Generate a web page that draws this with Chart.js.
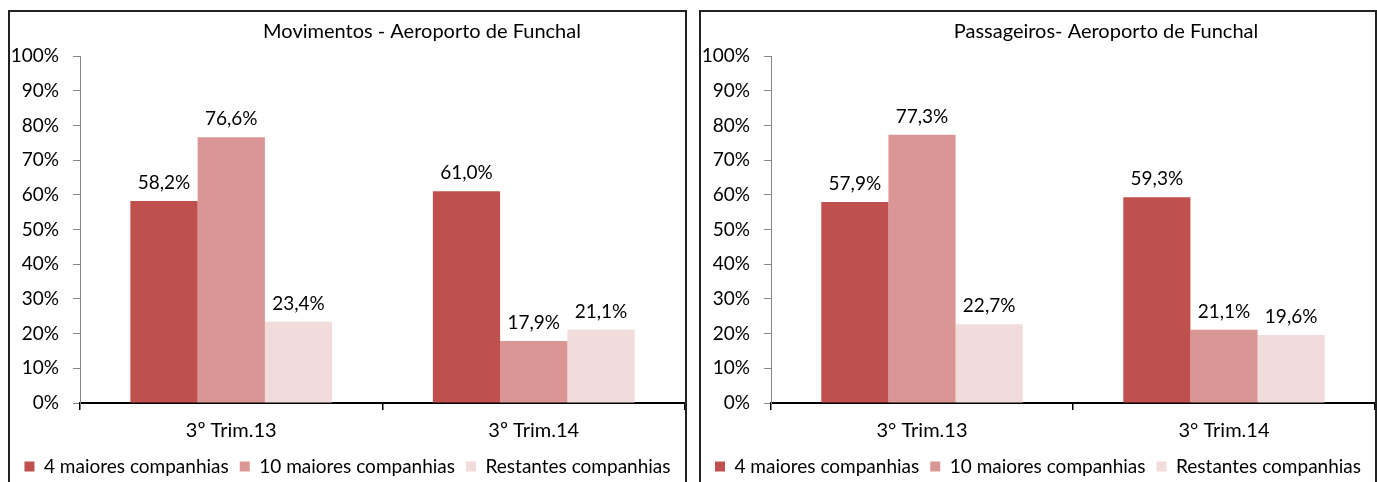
<!DOCTYPE html>
<html>
<head>
<meta charset="utf-8">
<script src="https://cdn.jsdelivr.net/npm/chart.js@4.4.0/dist/chart.umd.min.js"></script>
<style>
    html, body { margin: 0; padding: 0; background: #fff; width: 1377px; height: 482px; overflow: hidden; }
    .box { position: absolute; top: 10px; height: 480px; border: 2px solid #222; box-sizing: border-box; overflow: hidden; }
    #boxA { left: 8px; width: 679px; }
    #boxB { left: 699px; width: 678px; }
    canvas { display: block; }
</style>
</head>
<body>
<div class="box" id="boxA"><canvas id="chartA" width="675" height="474"></canvas></div>
<div class="box" id="boxB"><canvas id="chartB" width="674" height="474"></canvas></div>
<script>
// categories
const movCategories = ["3º Trim.13", "3º Trim.14"];
const paxCategories = ["3° Trim.13", "3° Trim.14"];
const seriesNames = ["4 maiores companhias", "10 maiores companhias", "Restantes companhias"];

// Movimentos (%)
const movTop4 = [58.2, 61.0];
const movTop10 = [76.6, 17.9];
const movRest = [23.4, 21.1];

// Passageiros (%)
const paxTop4 = [57.9, 59.3];
const paxTop10 = [77.3, 21.1];
const paxRest = [22.7, 19.6];

// y axis ticks
const yTicks = [0, 10, 20, 30, 40, 50, 60, 70, 80, 90, 100];

const colors = ["#C0504D", "#D99694", "#F2DCDB"];
const font = { family: "Lato", size: 19 };

// value labels above the bars, e.g. 58,2%
const valueLabels = {
    id: 'valueLabels',
    afterDatasetsDraw(chart) {
        const ctx = chart.ctx;
        ctx.save();
        ctx.font = "19px Lato";
        ctx.fillStyle = "#000";
        ctx.textAlign = "center";
        ctx.textBaseline = "alphabetic";
        chart.data.datasets.forEach(function(ds, i) {
            chart.getDatasetMeta(i).data.forEach(function(bar, j) {
                const txt = ds.data[j].toFixed(1).replace('.', ',') + '%';
                ctx.fillText(txt, bar.x, bar.y - 12);
            });
        });
        ctx.restore();
    }
};

// the title sits a bit right of centre in the original
const boxTitle = {
    id: 'boxTitle',
    afterDraw(chart, args, opts) {
        const ctx = chart.ctx;
        ctx.save();
        ctx.font = "20px Lato";
        ctx.fillStyle = "#000";
        ctx.textAlign = "center";
        ctx.textBaseline = "alphabetic";
        ctx.fillText(opts.text, opts.x, 26);
        ctx.restore();
    }
};

function makeChart(id, labels, top4, top10, rest, title, titleX) {
    return new Chart(document.getElementById(id), {
        type: 'bar',
        data: {
            labels: labels,
            datasets: [
                { label: seriesNames[0], backgroundColor: colors[0], data: top4 },
                { label: seriesNames[1], backgroundColor: colors[1], data: top10 },
                { label: seriesNames[2], backgroundColor: colors[2], data: rest }
            ]
        },
        options: {
            responsive: false,
            animation: false,
            layout: { padding: { top: 44, left: 0, right: 0, bottom: 0 } },
            datasets: { bar: { categoryPercentage: 0.667, barPercentage: 1 } },
            plugins: {
                title: { display: false },
                tooltip: { enabled: false },
                legend: {
                    position: 'bottom',
                    labels: { boxWidth: 10, boxHeight: 10, padding: 11, color: '#000', font: font }
                },
                boxTitle: { text: title, x: titleX }
            },
            scales: {
                x: {
                    grid: { offset: true, drawOnChartArea: false, tickLength: 7, color: '#000', lineWidth: 1.5 },
                    border: { color: '#000', width: 2 },
                    ticks: { color: '#000', font: { family: "Lato", size: 20 }, padding: 9 },
                    afterFit: function(s) { s.height = 43; }
                },
                y: {
                    min: 0,
                    max: 100,
                    afterBuildTicks: function(s) { s.ticks = yTicks.map(v => ({ value: v })); },
                    ticks: { color: '#000', font: font, padding: 14, callback: v => v + '%' },
                    grid: { drawOnChartArea: false, tickLength: 7, color: '#868686' },
                    border: { color: '#868686', width: 1 },
                    afterFit: function(s) { s.width = 70; }
                }
            }
        },
        plugins: [valueLabels, boxTitle]
    });
}

document.addEventListener("DOMContentLoaded", function() {
    makeChart("chartA", movCategories, movTop4, movTop10, movRest, "Movimentos - Aeroporto de Funchal", 412);
    makeChart("chartB", paxCategories, paxTop4, paxTop10, paxRest, "Passageiros- Aeroporto de Funchal", 405);
});
</script>
</body>
</html>
